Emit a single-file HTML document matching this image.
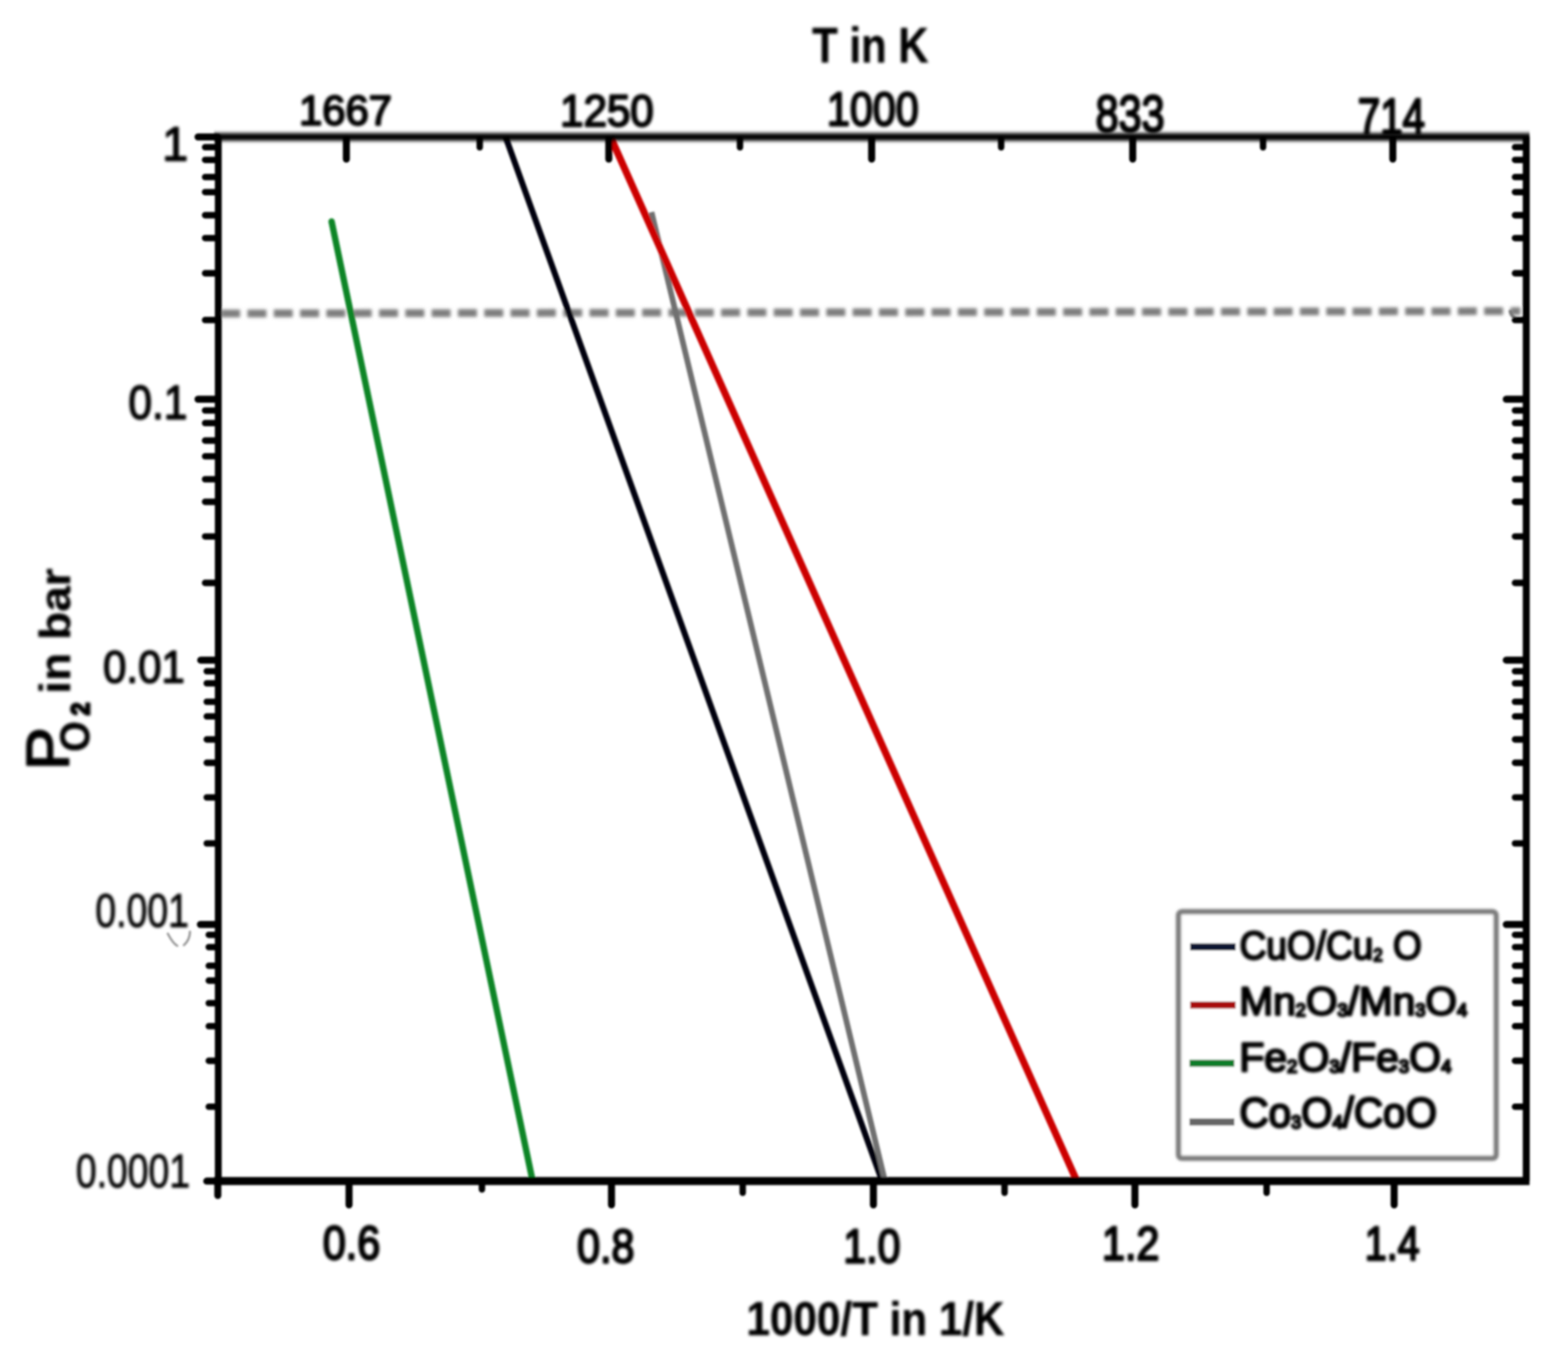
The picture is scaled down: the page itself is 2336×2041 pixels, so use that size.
<!DOCTYPE html>
<html lang="en">
<head>
<meta charset="utf-8">
<title>Oxygen partial pressure vs temperature</title>
<style>
html,body{margin:0;padding:0;background:#fff;}
body{width:2336px;height:2041px;overflow:hidden;}
svg{display:block;}
</style>
</head>
<body>
<svg width="2336" height="2041" viewBox="0 0 2336 2041" role="img" aria-label="Oxygen partial pressure versus temperature for metal oxide redox pairs">
<defs><filter id="soft" x="0" y="0" width="2336" height="2041" filterUnits="userSpaceOnUse"><feGaussianBlur stdDeviation="1.5"/></filter><filter id="softT" x="0" y="0" width="2336" height="2041" filterUnits="userSpaceOnUse"><feGaussianBlur stdDeviation="2.3"/></filter><filter id="softTop" x="250" y="170" width="2060" height="70" filterUnits="userSpaceOnUse"><feGaussianBlur stdDeviation="0 2.8"/></filter><filter id="softL" x="1730" y="1330" width="530" height="430" filterUnits="userSpaceOnUse"><feGaussianBlur stdDeviation="1.7"/></filter><filter id="soft2" x="300" y="430" width="2000" height="70" filterUnits="userSpaceOnUse"><feGaussianBlur stdDeviation="2.2"/></filter></defs>
<rect width="2336" height="2041" fill="#fff"/>
<g filter="url(#soft)">
<line x1="329.5" y1="467" x2="2265.0" y2="463.5" stroke="#7e7e7e" stroke-width="11.5" stroke-dasharray="28.2 11" filter="url(#soft2)"/>
<g fill="none" stroke-linecap="butt">
<line x1="494" y1="330" x2="793" y2="1757" stroke="#0c8528" stroke-width="9.5" stroke-linecap="round"/>
<line x1="753.2" y1="204" x2="1314" y2="1759" stroke="#03050f" stroke-width="9"/>
<line x1="970.6" y1="316" x2="1319" y2="1762" stroke="#6f6f6f" stroke-width="8.5"/>
<line x1="909.5" y1="204" x2="1604" y2="1759" stroke="#cc0505" stroke-width="10.5"/>
</g>
<rect x="1755.8" y="1358.3" width="473" height="367.3" rx="5" fill="#fff" stroke="#7c7c7c" stroke-width="8" filter="url(#softL)"/>
<g stroke-width="10.5" stroke-linecap="butt">
<line x1="1773" y1="1410.7" x2="1841" y2="1410.7" stroke="#091230"/>
<line x1="1773" y1="1497.2" x2="1841" y2="1497.2" stroke="#a80d0d"/>
<line x1="1772" y1="1584.1" x2="1839" y2="1584.1" stroke="#0b7d2c"/>
<line x1="1772" y1="1671.4" x2="1839" y2="1671.4" stroke="#666"/>
</g>
<g fill="none" stroke="#9a9a9a" stroke-width="3.5" stroke-linecap="round"><path d="M250 1391 Q258 1406 264 1409"/><path d="M274 1408 Q283 1400 283 1388"/><path d="M2250 464 Q2252 472 2258 474" stroke="#777" stroke-width="5"/></g>
<g stroke="#000" fill="none">
<path d="M319.0 204.0H2278.7" stroke-width="11.6" filter="url(#softTop)"/>
<path d="M319.0 1759.5H2278.7" stroke-width="12"/>
<path d="M325.2 203.8V1759.5" stroke-width="10.2"/>
<path d="M2273.8 203.8V1759.5" stroke-width="10.4"/>
<path d="M516 207.8V237 M907 207.8V237 M1298.6 207.8V237 M1687.5 207.8V237 M2075 207.8V237 M520 1759.5V1795 M911 1759.5V1795 M1301.2 1759.5V1795 M1690.8 1759.5V1795 M2077 1759.5V1795 M324.5 1759.5V1781 M324.5 204.0H295 M324.5 594.8H295 M2273.0 594.8H2244 M324.5 983.4H299 M2273.0 983.4H2244 M324.5 1377.3H298.5 M2273.0 1377.3H2244 M324.5 1759.6H308" stroke-width="10.5" stroke-linecap="round"/>
<path d="M714.7 207.8V219.5 M1102.4 207.8V219.5 M1491.5 207.8V219.5 M1881.7 207.8V219.5 M718 1759.5V1772 M1106.5 1759.5V1777 M1496.6 1759.5V1777 M1887 1759.5V1777 M324.5 219.3H305.5 M2273.0 219.3H2257 M324.5 238.2H305.5 M2273.0 238.2H2257 M324.5 263.8H305.5 M2273.0 263.8H2257 M324.5 286.2H305.5 M2273.0 286.2H2257 M324.5 320.6H305.5 M2273.0 320.6H2257 M324.5 354.7H305.5 M2273.0 354.7H2257 M324.5 407.1H305.5 M2273.0 407.1H2257 M324.5 476.8H305.5 M2273.0 476.8H2257 M324.5 611.5H305.5 M2273.0 611.5H2257 M324.5 630.3H305.5 M2273.0 630.3H2257 M324.5 656.4H305.5 M2273.0 656.4H2257 M324.5 679.8H305.5 M2273.0 679.8H2257 M324.5 714.0H305.5 M2273.0 714.0H2257 M324.5 747.6H305.5 M2273.0 747.6H2257 M324.5 799.2H305.5 M2273.0 799.2H2257 M324.5 868.4H305.5 M2273.0 868.4H2257 M324.5 1000.0H308 M2273.0 1000.0H2257 M324.5 1018.0H308 M2273.0 1018.0H2257 M324.5 1045.5H308 M2273.0 1045.5H2257 M324.5 1067.3H308 M2273.0 1067.3H2257 M324.5 1101.6H308 M2273.0 1101.6H2257 M324.5 1136.4H308 M2273.0 1136.4H2257 M324.5 1188.0H308 M2273.0 1188.0H2257 M324.5 1256.5H308 M2273.0 1256.5H2257 M324.5 1392.7H311 M2273.0 1392.7H2257 M324.5 1411.0H311 M2273.0 1411.0H2257 M324.5 1438.8H311 M2273.0 1438.8H2257 M324.5 1460.9H311 M2273.0 1460.9H2257 M324.5 1494.5H311 M2273.0 1494.5H2257 M324.5 1528.8H311 M2273.0 1528.8H2257 M324.5 1580.4H311 M2273.0 1580.4H2257 M324.5 1648.8H311 M2273.0 1648.8H2257" stroke-width="9.6" stroke-linecap="round"/>
</g>
</g>
<g filter="url(#softT)" font-family='"Liberation Sans", sans-serif' font-size="80" stroke="#000" stroke-linejoin="round">
<text transform="translate(1210.02,93.20) scale(0.7801,0.9172)" font-weight="bold" stroke-width="0.6" fill="#000">T in K</text>
<text transform="translate(445.42,186.21) scale(0.7789,0.7967)" stroke-width="3.6" fill="#000">1667</text>
<text transform="translate(834.59,187.73) scale(0.7831,0.8233)" stroke-width="3.6" fill="#000">1250</text>
<text transform="translate(1232.00,186.58) scale(0.7672,0.8733)" stroke-width="3.6" fill="#000">1000</text>
<text transform="translate(1632.26,195.78) scale(0.7692,0.9733)" stroke-width="3.6" fill="#000">833</text>
<text transform="translate(2022.70,200.29) scale(0.7519,0.9559)" stroke-width="3.6" fill="#000">714</text>
<text transform="translate(241.69,238.52) scale(0.8650,0.8772)" stroke-width="2.6" fill="#000">1</text>
<text transform="translate(191.22,623.72) scale(0.7910,0.8881)" stroke-width="2.6" fill="#000">0.1</text>
<text transform="translate(153.54,1016.70) scale(0.7818,0.8492)" stroke-width="2.6" fill="#000">0.01</text>
<text transform="translate(142.11,1381.14) scale(0.6965,0.8810)" stroke-width="1.4" fill="#000">0.001</text>
<text transform="translate(112.91,1769.34) scale(0.6965,0.8793)" stroke-width="1.4" fill="#000">0.0001</text>
<text transform="translate(480.93,1875.75) scale(0.7679,0.8833)" stroke-width="3.8" fill="#000">0.6</text>
<text transform="translate(859.73,1880.85) scale(0.7679,0.8833)" stroke-width="3.8" fill="#000">0.8</text>
<text transform="translate(1256.60,1880.85) scale(0.7627,0.8833)" stroke-width="3.8" fill="#000">1.0</text>
<text transform="translate(1641.76,1876.63) scale(0.7692,0.8833)" stroke-width="3.8" fill="#000">1.2</text>
<text transform="translate(2033.30,1876.66) scale(0.7333,0.8695)" stroke-width="3.8" fill="#000">1.4</text>
<text transform="translate(1112.07,1989.23) scale(0.7863,0.8833)" font-weight="bold" stroke-width="0.6" fill="#000">1000/T in 1/K</text>
<text transform="translate(101.50,1147.51) rotate(-90) scale(1.2022,1.1017)" stroke-width="2.5" fill="#000">P</text>
<text transform="translate(133.22,1120.21) rotate(-90) scale(0.7375,0.7772)" font-weight="bold" stroke-width="0.6" fill="#000">O</text>
<text transform="translate(133.42,1065.77) rotate(-90) scale(0.4304,0.4935)" font-weight="bold" stroke-width="7" fill="#000">2</text>
<text transform="translate(104.78,1033.49) rotate(-90) scale(0.8585,0.8169)" font-weight="bold" stroke-width="0.6" fill="#000">in bar</text>
<text transform="translate(1846.72,1429.38) scale(0.6897,0.7446)" stroke-width="4.2" fill="#000">CuO/Cu<tspan font-size="36" dy="3">2</tspan><tspan dy="-3"> O</tspan></text>
<text transform="translate(1846.28,1512.18) scale(0.7561,0.7431)" stroke-width="4.2" fill="#000">Mn<tspan font-size="36" dy="3">2</tspan><tspan dy="-3">O</tspan><tspan font-size="36" dy="3">3</tspan><tspan dy="-3">/Mn</tspan><tspan font-size="36" dy="3">3</tspan><tspan dy="-3">O</tspan><tspan font-size="36" dy="3">4</tspan></text>
<text transform="translate(1846.24,1596.08) scale(0.7642,0.7631)" stroke-width="4.2" fill="#000">Fe<tspan font-size="36" dy="3">2</tspan><tspan dy="-3">O</tspan><tspan font-size="36" dy="3">3</tspan><tspan dy="-3">/Fe</tspan><tspan font-size="36" dy="3">3</tspan><tspan dy="-3">O</tspan><tspan font-size="36" dy="3">4</tspan></text>
<text transform="translate(1846.60,1678.89) scale(0.7517,0.7815)" stroke-width="4.2" fill="#000">Co<tspan font-size="36" dy="3">3</tspan><tspan dy="-3">O</tspan><tspan font-size="36" dy="3">4</tspan><tspan dy="-3">/CoO</tspan></text>
</g>
</svg>
</body>
</html>
